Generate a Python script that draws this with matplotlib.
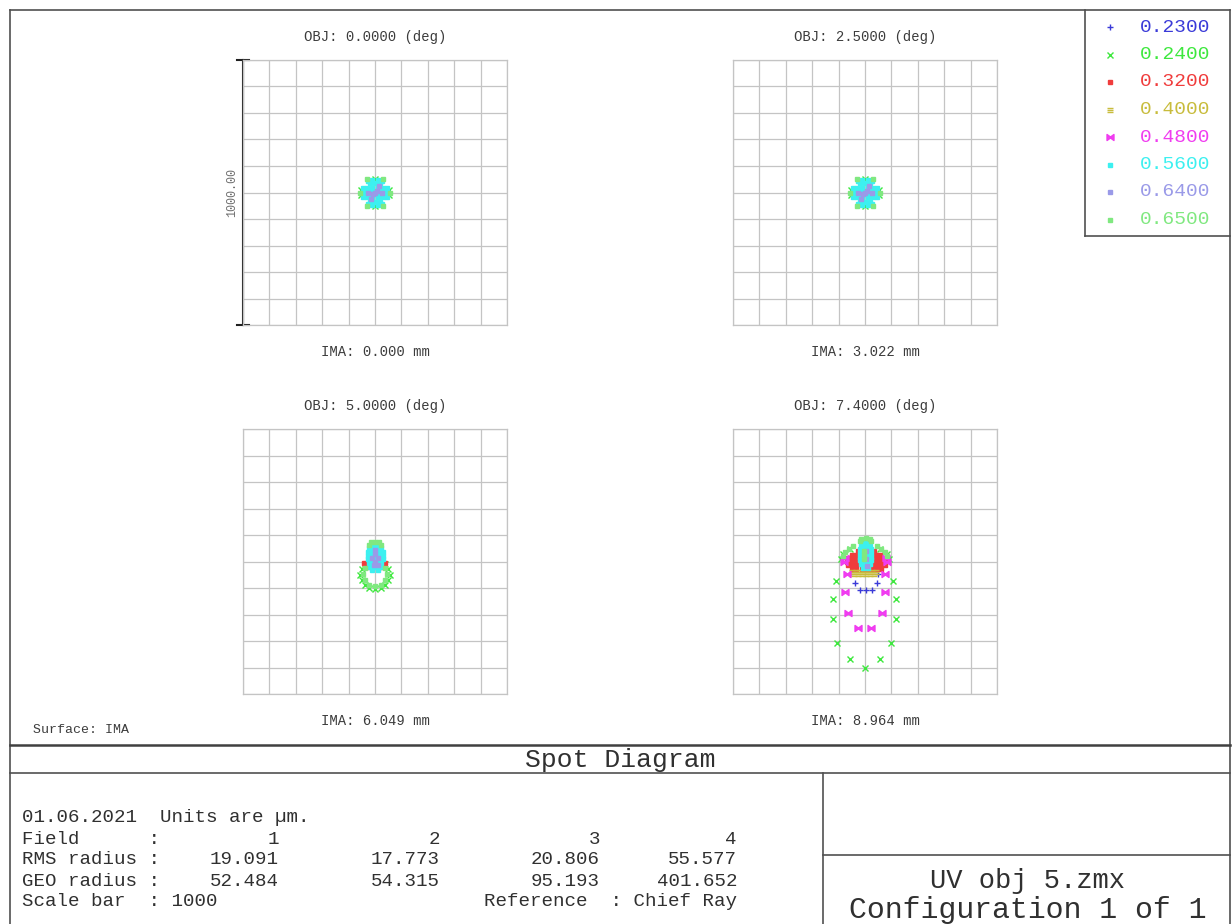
import matplotlib.pyplot as plt

# wavelengths (um) with their plotting colours and symbols
WAVELENGTHS = ['0.2300', '0.2400', '0.3200', '0.4000', '0.4800', '0.5600', '0.6400', '0.6500']
COLORS = ['#3a3ad8', '#3ee83e', '#f03c3c', '#c8bc3c', '#f03cf0', '#3cf0f0', '#9a9ae8', '#80e880']
MARKERS = ['+', 'x', 's', '$\\equiv$', '$\\bowtie$', 's', 's', 's']
MSIZES = [5, 4, 3, 5, 5, 3.2, 3, 3]

FIELD_ANGLES = ['0.0000', '2.5000', '5.0000', '7.4000']
IMAGE_HEIGHTS = ['0.000', '3.022', '6.049', '8.964']
RMS_RADIUS = ['19.091', '17.773', '20.806', '55.577']
GEO_RADIUS = ['52.484', '54.315', '95.193', '401.652']
SCALE_BAR = 1000  # um

# ray intercepts in um relative to the chief ray
CENTER_024 = [(54, 10), (-54, 10), (54, -10), (-54, -10), (0, 50), (0, -50)]
CENTER_056 = [(0, 0), (20, 0), (10, 17), (-10, 17), (-20, 0), (-10, -17), (10, -17),
              (40, 0), (30, 17), (20, 35), (0, 35), (-20, 35), (-30, 17), (-40, 0),
              (-30, -17), (-20, -35), (0, -35), (20, -35), (30, -17),
              (50, 0), (25, 44), (-25, 44), (-50, 0), (-25, -44), (25, -44),
              (45, 18), (-45, 18), (45, -18), (-45, -18), (10, 46), (-10, 46), (10, -46), (-10, -46)]
CENTER_064 = [(0, 0), (8, 6), (-8, -6), (28, 0), (-28, 0), (14, 24), (-14, -24)]
CENTER_065 = [(58, 0), (29, 50), (-29, 50), (-58, 0), (-29, -50), (29, -50)]

F3_024 = [(55, -50), (51, -29), (39, -11), (51, -71), (39, -89), (21, -101), (0, -105),
          (-21, -101), (-39, -89), (-51, -71), (-55, -50), (-51, -29), (-39, -11)]
F3_032 = [(-40, -4), (-37, -12), (-31, -19), (36, -4), (33, -12), (27, -19)]
F3_056 = [(-15, 62), (0, 62), (15, 62),
          (-22, 50), (-8, 50), (8, 50), (22, 50),
          (-25, 36), (-10, 36), (5, 36), (20, 36), (30, 36),
          (-25, 22), (-10, 22), (5, 22), (20, 22), (30, 22),
          (-25, 8), (-10, 8), (5, 8), (20, 8), (30, 8),
          (-22, -6), (-8, -6), (8, -6), (22, -6),
          (-18, -20), (0, -20), (18, -20), (-10, -32), (10, -32)]
F3_064 = [(0, 30), (-12, 15), (12, 15), (0, 0), (0, 45), (-5, -15), (10, -15)]
F3_065 = [(-15, 72), (0, 74), (15, 72), (-24, 62), (24, 62),
          (45, -48), (39, -25), (39, -71), (22, -87), (0, -93), (-22, -87), (-39, -71), (-45, -48), (-39, -25)]

F4_023 = [(-57, -46), (49, -46), (-38, -80), (45, -80), (-19, -106), (4, -106), (27, -106)]
F4_024 = [(-57, 49), (57, 49), (-83, 30), (83, 30), (-90, 10), (92, 10), (-110, -75), (106, -75),
          (-121, -140), (118, -140), (-121, -216), (118, -216), (-106, -307), (99, -307),
          (-57, -368), (57, -368), (0, -402)]
F4_032 = [(-25, 38), (-10, 38), (5, 38), (20, 38), (35, 38),
          (-50, 25), (-35, 25), (-20, 25), (-5, 25), (15, 25), (30, 25), (45, 25), (60, 25),
          (-63, 12), (-47, 12), (-30, 12), (-13, 12), (5, 12), (23, 12), (40, 12), (57, 12), (73, 12),
          (-67, 0), (-51, 0), (-35, 0), (-15, 0), (5, 0), (25, 0), (45, 0), (61, 0), (77, 0),
          (-65, -14), (-49, -14), (-33, -14), (-13, -14), (5, -14), (23, -14), (43, -14), (59, -14), (75, -14),
          (-50, -28), (-33, -28), (-13, -28), (5, -28), (23, -28), (43, -28), (60, -28)]
F4_040 = [(-50, -38), (-35, -38), (-20, -38), (-5, -38), (10, -38), (25, -38), (40, -38),
          (-40, -46), (-25, -46), (-10, -46), (5, -46), (20, -46), (35, -46)]
F4_048 = [(-68, -46), (76, -46), (-76, -114), (76, -114), (-64, -193), (64, -193), (-27, -250), (23, -250),
          (-76, 15), (-78, 0), (80, 15), (82, 0)]
F4_056 = [(-8, 72), (10, 72), (-16, 60), (2, 60), (20, 60), (-18, 46), (2, 46), (22, 46),
          (-18, 32), (2, 32), (22, 32), (-18, 18), (2, 18), (22, 18), (-18, 4), (2, 4), (22, 4),
          (-14, -10), (4, -10), (20, -10), (-8, -24), (12, -24)]
F4_064 = [(2, 40), (2, 10), (6, -18)]
F4_065 = [(-14, 86), (2, 88), (18, 86), (-20, 76), (22, 76),
          (-82, 20), (-74, 35), (-62, 46), (-44, 58), (44, 58), (62, 46), (76, 35), (84, 20),
          (-4, 40), (-4, 25), (-4, 10)]

FIELD_SPOTS = [
    {1: CENTER_024, 5: CENTER_056, 6: CENTER_064, 7: CENTER_065},
    {1: CENTER_024, 5: CENTER_056, 6: CENTER_064, 7: CENTER_065},
    {1: F3_024, 2: F3_032, 5: F3_056, 6: F3_064, 7: F3_065},
    {0: F4_023, 1: F4_024, 2: F4_032, 3: F4_040, 4: F4_048, 5: F4_056, 6: F4_064, 7: F4_065},
]

MONO = 'Liberation Mono'
TXT = '#3c3c3c'
W, H = 1232, 924

fig = plt.figure(figsize=(W / 100, H / 100), dpi=100)
bg = fig.add_axes([0, 0, 1, 1])
bg.set_xlim(0, W)
bg.set_ylim(H, 0)
bg.axis('off')

# frame and title block
frame = dict(color='#505050', lw=1.2)
bg.plot([10, 10], [10, H], **frame)
bg.plot([10, 1230], [10, 10], **frame)
bg.plot([1230, 1230], [10, H], **frame)
bg.plot([10, 1230], [745, 745], color='#404040', lw=1.8)
bg.plot([10, 1230], [773, 773], **frame)
bg.plot([823, 823], [773, H], **frame)
bg.plot([823, 1230], [855, 855], **frame)
bg.plot([1085, 1085], [10, 236], **frame)
bg.plot([1085, 1230], [236, 236], **frame)

# spot boxes: left, top in pixels
boxes = [(243, 60), (733, 60), (243, 429), (733, 429)]
bw, bh = 264, 265
half = SCALE_BAR / 2
axes = []
for i, (left, top) in enumerate(boxes):
    ax = fig.add_axes([left / W, 1 - (top + bh) / H, bw / W, bh / H])
    ax.set_xlim(-half, half)
    ax.set_ylim(-half, half)
    ticks = range(-500, 501, 100)
    ax.set_xticks(ticks)
    ax.set_yticks(ticks)
    ax.tick_params(length=0, labelbottom=False, labelleft=False)
    ax.grid(True, color='#c4c4c4', lw=0.9)
    for s in ax.spines.values():
        s.set_color('#c4c4c4')
        s.set_linewidth(0.9)
    ax.set_axisbelow(True)
    ax.patch.set_alpha(0)

    for w, pts in sorted(FIELD_SPOTS[i].items()):
        xs = [p[0] for p in pts]
        ys = [p[1] for p in pts]
        ax.plot(xs, ys, ls='none', marker=MARKERS[w], ms=MSIZES[w],
                color=COLORS[w], mec=COLORS[w], mew=1)

    ax.text(0.5, 1 + 23 / bh, f'OBJ: {FIELD_ANGLES[i]} (deg)', transform=ax.transAxes,
            ha='center', va='center', fontsize=10, family=MONO, color=TXT)
    ax.text(0.5, -27 / bh, f'IMA: {IMAGE_HEIGHTS[i]} mm', transform=ax.transAxes,
            ha='center', va='center', fontsize=10, family=MONO, color=TXT)
    axes.append(ax)

# scale bar beside the first box
ax = axes[0]
cap = 23
ax.plot([-half, -half], [-half, half], color='#202020', lw=1.5, clip_on=False)
ax.plot([-half - cap, -half + cap], [half, half], color='#202020', lw=1.5, clip_on=False)
ax.plot([-half - cap, -half + cap], [-half, -half], color='#202020', lw=1.5, clip_on=False)
ax.text(-half - 40, 0, f'{SCALE_BAR:.2f}', rotation=90, ha='center', va='center',
        fontsize=8.5, family=MONO, color='#707070')

bg.text(33, 730, 'Surface: IMA', ha='left', va='center', fontsize=9.5, family=MONO, color=TXT)

# wavelength legend
for k, wl in enumerate(WAVELENGTHS):
    y = 27 + 27.5 * k
    bg.plot([1110], [y], ls='none', marker=MARKERS[k], ms=MSIZES[k], color=COLORS[k],
            mec=COLORS[k], mew=1)
    bg.text(1140, y, wl, ha='left', va='center', fontsize=14, family=MONO, color=COLORS[k])

# title block text
bg.text(620, 760, 'Spot Diagram', ha='center', va='center', fontsize=19, family=MONO, color='#303030')
bg.text(1028, 881, 'UV obj 5.zmx', ha='center', va='center', fontsize=19.5, family=MONO, color='#303030')
bg.text(1028, 910, 'Configuration 1 of 1', ha='center', va='center', fontsize=21.5, family=MONO,
        color='#303030')

fs = 13.8
rows = [817, 839, 860, 881, 901]
cols = [279, 440, 600, 737]
bg.text(22, rows[0], '01.06.2021  Units are \u00b5m.', ha='left', va='center', fontsize=fs,
        family=MONO, color='#303030')
labels = ['Field      :', 'RMS radius :', 'GEO radius :', f'Scale bar  : {SCALE_BAR}']
for r, lab in zip(rows[1:], labels):
    bg.text(22, r, lab, ha='left', va='center', fontsize=fs, family=MONO, color='#303030')
for j, x in enumerate(cols):
    bg.text(x, rows[1], str(j + 1), ha='right', va='center', fontsize=fs, family=MONO, color='#303030')
    bg.text(x, rows[2], RMS_RADIUS[j], ha='right', va='center', fontsize=fs, family=MONO, color='#303030')
    bg.text(x, rows[3], GEO_RADIUS[j], ha='right', va='center', fontsize=fs, family=MONO, color='#303030')
bg.text(cols[3], rows[4], 'Reference  : Chief Ray', ha='right', va='center', fontsize=fs,
        family=MONO, color='#303030')

fig.savefig('out.png', dpi=100, facecolor='white')
